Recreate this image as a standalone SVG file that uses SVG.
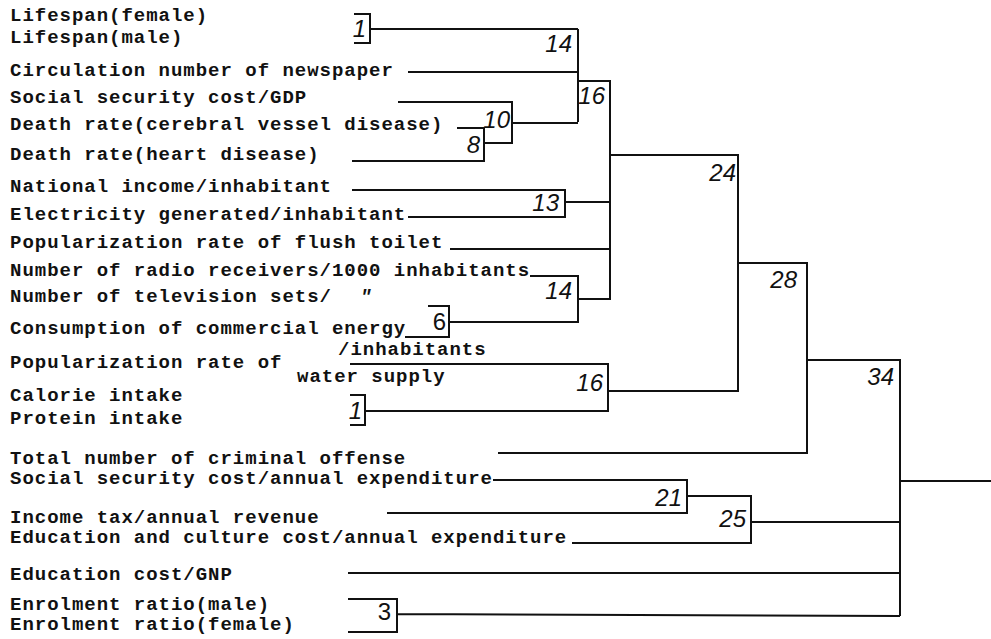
<svg xmlns="http://www.w3.org/2000/svg" width="991" height="639" viewBox="0 0 991 639">
<style>
.t{font-family:"Liberation Mono","DejaVu Sans Mono",monospace;font-size:19px;font-weight:bold;letter-spacing:0.98px;fill:#111}
.n{font-family:"Liberation Sans","DejaVu Sans",sans-serif;font-size:24px;font-style:italic;fill:#111;text-anchor:end}
.c path{fill:none;stroke:#111;stroke-width:2}
</style>
<rect width="991" height="639" fill="#fff"/>
<g id="connectors" class="c">
<path d="M354,14H370V43H354M370,29H578"/>
<path d="M408,72H578"/>
<path d="M578,29V122"/>
<path d="M398,102H512V143H484M512,123H578"/>
<path d="M457,128H484V161H352"/>
<path d="M578,81H610V300"/>
<path d="M352,190H565V217H408M565,202H610"/>
<path d="M450,249H610"/>
<path d="M530,276H578V322H449M578,299H610"/>
<path d="M428,306H449V337H405"/>
<path d="M350,364H608V411H365"/>
<path d="M350,395H365V425H350"/>
<path d="M610,155H738V391H608"/>
<path d="M738,263H807V453H498"/>
<path d="M807,360H900V616"/>
<path d="M900,481H991"/>
<path d="M493,480H687V513H387"/>
<path d="M687,496H751V543H572M751,522H900"/>
<path d="M348,573H900"/>
<path d="M348,599H397V632H348M397,614L900,616"/>
</g>
<g id="leaf-lifespan-female"><text class="t" x="10" y="21">Lifespan(female)</text></g>
<g id="leaf-lifespan-male"><text class="t" x="10" y="43">Lifespan(male)</text></g>
<g id="leaf-newspaper"><text class="t" x="10" y="76">Circulation number of newspaper</text></g>
<g id="leaf-social-gdp"><text class="t" x="10" y="103">Social security cost/GDP</text></g>
<g id="leaf-death-cerebral"><text class="t" x="10" y="130">Death rate(cerebral vessel disease)</text></g>
<g id="leaf-death-heart"><text class="t" x="10" y="160">Death rate(heart disease)</text></g>
<g id="leaf-national-income"><text class="t" x="10" y="192">National income/inhabitant</text></g>
<g id="leaf-electricity"><text class="t" x="10" y="220">Electricity generated/inhabitant</text></g>
<g id="leaf-flush-toilet"><text class="t" x="10" y="248">Popularization rate of flush toilet</text></g>
<g id="leaf-radio"><text class="t" x="10" y="276">Number of radio receivers/1000 inhabitants</text></g>
<g id="leaf-television"><text class="t" x="10" y="302">Number of television sets/<tspan x="360" style="font-style:italic">″</tspan></text></g>
<g id="leaf-energy"><text class="t" x="10" y="334">Consumption of commercial energy</text><text class="t" x="338" y="355">/inhabitants</text></g>
<g id="leaf-water-supply"><text class="t" x="10" y="368">Popularization rate of</text><text class="t" x="297" y="382">water supply</text></g>
<g id="leaf-calorie"><text class="t" x="10" y="401">Calorie intake</text></g>
<g id="leaf-protein"><text class="t" x="10" y="424">Protein intake</text></g>
<g id="leaf-criminal"><text class="t" x="10" y="464">Total number of criminal offense</text></g>
<g id="leaf-social-annual"><text class="t" x="10" y="484">Social security cost/annual expenditure</text></g>
<g id="leaf-income-tax"><text class="t" x="10" y="523">Income tax/annual revenue</text></g>
<g id="leaf-edu-culture"><text class="t" x="10" y="543">Education and culture cost/annual expenditure</text></g>
<g id="leaf-edu-gnp"><text class="t" x="10" y="580">Education cost/GNP</text></g>
<g id="leaf-enrol-male"><text class="t" x="10" y="610">Enrolment ratio(male)</text></g>
<g id="leaf-enrol-female"><text class="t" x="10" y="630">Enrolment ratio(female)</text></g>
<g id="c1a"><text class="n" x="366" y="37">1</text></g>
<g id="c14a"><text class="n" x="572" y="52">14</text></g>
<g id="c16a"><text class="n" x="605" y="104">16</text></g>
<g id="c10"><text class="n" x="510" y="128">10</text></g>
<g id="c8"><text class="n" x="480" y="153">8</text></g>
<g id="c13"><text class="n" x="559" y="211">13</text></g>
<g id="c14b"><text class="n" x="572" y="299">14</text></g>
<g id="c6"><text class="n" x="446" y="330" style="font-style:normal">6</text></g>
<g id="c16b"><text class="n" x="603" y="391">16</text></g>
<g id="c1b"><text class="n" x="362" y="419">1</text></g>
<g id="c24"><text class="n" x="736" y="181">24</text></g>
<g id="c28"><text class="n" x="797" y="288">28</text></g>
<g id="c34"><text class="n" x="894" y="385">34</text></g>
<g id="c21"><text class="n" x="682" y="506">21</text></g>
<g id="c25"><text class="n" x="746" y="527">25</text></g>
<g id="c3"><text class="n" x="391" y="620" style="font-style:normal">3</text></g>
</svg>
